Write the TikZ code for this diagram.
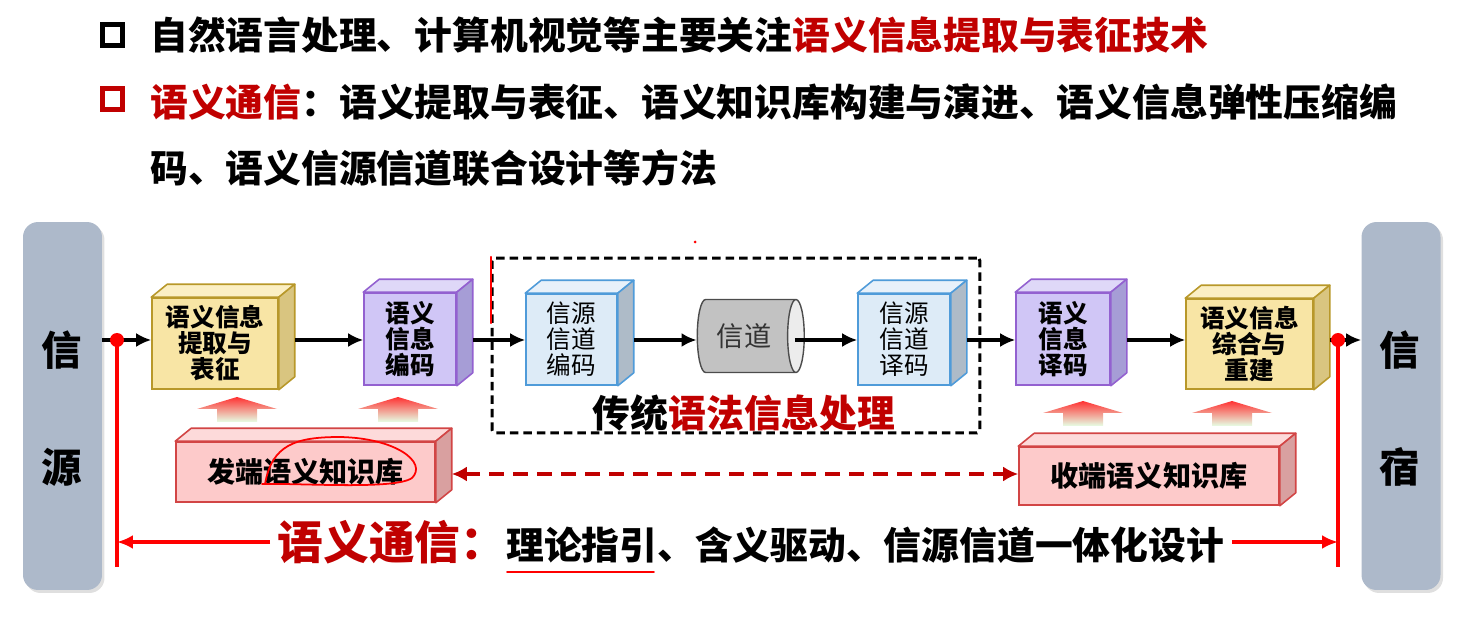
\documentclass[tikz,border=0pt]{standalone}
\usepackage{fontspec}
\setmainfont{Noto Sans CJK SC}
\usetikzlibrary{arrows.meta,shapes.geometric,shadows}
\definecolor{bargray}{HTML}{ADB9CA}
\definecolor{semred}{HTML}{C00000}
\definecolor{yelF}{HTML}{F8E5A5}
\definecolor{yelT}{HTML}{FBEFC4}
\definecolor{yelS}{HTML}{D9C580}
\definecolor{yelD}{HTML}{B8982A}
\definecolor{purF}{HTML}{D0C6F6}
\definecolor{purT}{HTML}{DFD8F8}
\definecolor{purS}{HTML}{A69DD6}
\definecolor{purD}{HTML}{9361D0}
\definecolor{bluF}{HTML}{DDEBF7}
\definecolor{bluT}{HTML}{E8F1FA}
\definecolor{bluS}{HTML}{AEBBC8}
\definecolor{bluD}{HTML}{4F9BD9}
\definecolor{pnkF}{HTML}{FDCACA}
\definecolor{pnkT}{HTML}{FDDADA}
\definecolor{pnkS}{HTML}{D9A0A0}
\definecolor{pnkD}{HTML}{D24545}

\begin{document}
\begin{tikzpicture}[x=0.02cm, y=-0.02cm,
    title/.style={anchor=west, inner sep=0, font=\fontsize{21.5}{24}\selectfont\bfseries},
    bullet/.style={draw=#1, line width=2.8pt, minimum size=0.41cm, inner sep=0},
    bar/.style={fill=bargray, rounded corners=0.3cm, minimum width=1.58cm, minimum height=7.36cm,
        drop shadow={shadow xshift=0.05cm, shadow yshift=-0.06cm, opacity=0.25}},
    bartext/.style={font=\fontsize{23}{26}\selectfont\bfseries},
    cube/.style={draw=#1D, fill=#1F, line width=0.9pt, align=center, inner sep=0,
        font=\fontsize{14}{14.8}\selectfont\bfseries},
    arr/.style={line width=1.9pt, -{Latex[length=0.3cm, width=0.28cm]}},
    redline/.style={red, line width=2.1pt},
    redarr/.style={red, line width=2.1pt, -{Latex[length=0.32cm, width=0.28cm]}},
    kbarr/.style={semred, line width=2.1pt, dash pattern=on 0.3cm off 0.18cm,
        {Latex[length=0.3cm, width=0.3cm]}-{Latex[length=0.3cm, width=0.3cm]}},
    pen/.style={red, line width=1pt, line cap=round}]
    \useasboundingbox (0,0) rectangle (1461,621);

    \node[bullet=black] (b1) at (112.5,35) {};
    \node[bullet=semred] (b2) at (112.5,99) {};
    \node[title] (t1) at (150,35) {自然语言处理、计算机视觉等主要关注\textcolor{semred}{语义信息提取与表征技术}};
    \node[title] (t2) at (150,102) {\textcolor{semred}{语义通信}：语义提取与表征、语义知识库构建与演进、语义信息弹性压缩编};
    \node[title] (t3) at (150,168) {码、语义信源信道联合设计等方法};

    \node[bar] (src) at (62.5,406) {};
    \node[bar] (snk) at (1401,406) {};
    \node[bartext] (src1) at (62,350) {信};
    \node[bartext] (src2) at (62,467) {源};
    \node[bartext] (snk1) at (1400,350) {信};
    \node[bartext] (snk2) at (1400,467) {宿};

    \node[draw, line width=1.7pt, dash pattern=on 0.17cm off 0.1cm, rounded corners=0.06cm,
        minimum width=9.76cm, minimum height=3.5cm] (trad) at (736,345.5) {};
    \node[font=\fontsize{21.5}{24}\selectfont\bfseries] (tradlbl) at (744,413) {传统\textcolor{semred}{语法信息处理}};

    \node[cube=yel, minimum width=2.52cm, minimum height=1.82cm] (ext) at (215,343.5) {语义信息\\提取与\\表征};
    \node[cube=pur, minimum width=1.84cm, minimum height=1.84cm] (senc) at (410,339) {语义\\信息\\编码};
    \node[cube=blu, minimum width=1.82cm, minimum height=1.82cm, font=\fontsize{14}{14.8}\selectfont] (cenc) at (571.5,339.5) {信源\\信道\\编码};
    \node[cube=blu, minimum width=1.84cm, minimum height=1.82cm, font=\fontsize{14}{14.8}\selectfont] (cdec) at (904,339.5) {信源\\信道\\译码};
    \node[cube=pur, minimum width=1.88cm, minimum height=1.84cm] (sdec) at (1063,339) {语义\\信息\\译码};
    \node[cube=yel, minimum width=2.54cm, minimum height=1.8cm] (rec) at (1249.5,344) {语义信息\\综合与\\重建};
    \node[cube=pnk, minimum width=5.18cm, minimum height=1.2cm, font=\fontsize{16}{18}\selectfont\bfseries] (skb) at (305.5,472) {发端语义知识库};
    \node[cube=pnk, minimum width=5.2cm, minimum height=1.16cm, font=\fontsize{16}{18}\selectfont\bfseries] (rkb) at (1149,476) {收端语义知识库};
    \foreach \n/\col in {ext/yel, senc/pur, cenc/blu, cdec/blu, sdec/pur, rec/yel, skb/pnk, rkb/pnk}{
        \draw[draw=\col D, fill=\col T, line width=0.9pt, line join=round]
            (\n.north west) -- ++(16,-13) -- ([shift={(16,-13)}]\n.north east) -- (\n.north east) -- cycle;
        \draw[draw=\col D, fill=\col S, line width=0.9pt, line join=round]
            (\n.north east) -- ++(16,-13) -- ([shift={(16,-13)}]\n.south east) -- (\n.south east) -- cycle;
    }

    \node[cylinder, draw=gray!60!black, line width=0.8pt, cylinder uses custom fill,
        cylinder body fill=gray!48, cylinder end fill=gray!15, aspect=0.45,
        minimum width=1.46cm, minimum height=2.14cm,
        font=\fontsize{15.5}{17}\selectfont, text=black!80] (chan) at (744,336) {信道};

    \foreach \x/\y in {237/397, 398/397, 1083/401, 1232/401}
        \shade[top color=red!80!white, bottom color=green!10!white]
            (\x,\y) -- ++(40,12) -- ++(-20,0) -- ++(0,13) -- ++(-40,0) -- ++(0,-13) -- ++(-20,0) -- cycle;

    \coordinate (ml) at (0,340);
    \coordinate (kb) at (0,474);
    \coordinate (dl) at (117,340);
    \coordinate (dlb) at (117,567);
    \coordinate (dr) at (1338,340);
    \coordinate (drb) at (1338,567);

    \draw[arr] (src.east |- ml) -- (ext.west |- ml);
    \draw[arr] (ext.east |- ml) ++(16,0) -- (senc.west |- ml);
    \draw[arr] (senc.east |- ml) ++(16,0) -- (cenc.west |- ml);
    \draw[arr] (cenc.east |- ml) ++(16,0) -- (chan.west |- ml);
    \draw[arr] (chan.east |- ml) ++(-10,0) -- (cdec.west |- ml);
    \draw[arr] (cdec.east |- ml) ++(16,0) -- (sdec.west |- ml);
    \draw[arr] (sdec.east |- ml) ++(16,0) -- (rec.west |- ml);
    \draw[arr] (rec.east |- ml) ++(16,0) -- (snk.west |- ml);

    \draw[kbarr] (skb.east |- kb) ++(16,0) -- (rkb.west |- kb);

    \node[anchor=west, inner sep=0.15cm, font=\fontsize{21.5}{24}\selectfont\bfseries] (slogan) at (270,542)
        {\textcolor{semred}{\fontsize{26}{28}\selectfont 语义通信：}理论指引、含义驱动、信源信道一体化设计};
    \draw[redline] (dl) -- (dlb);
    \draw[redline] (dr) -- (drb);
    \fill[red] (dl) circle (0.14cm);
    \fill[red] (dr) circle (0.14cm);
    \draw[redarr] (slogan.west) -- (slogan.west -| dl);
    \draw[redarr] (slogan.east) -- (slogan.east -| dr);

    \draw[pen] (507,572) -- (654,572);
    \draw[pen] (265,484) .. controls (272,445) and (295,437) .. (340,437)
        .. controls (395,438) and (428,462) .. (412,478) .. controls (395,490) and (300,483) .. (262,484);
    \draw[pen, line width=1.3pt] (491,257) -- (491,323);
    \fill[red] (695,242) circle (0.03cm);
\end{tikzpicture}
\end{document}
